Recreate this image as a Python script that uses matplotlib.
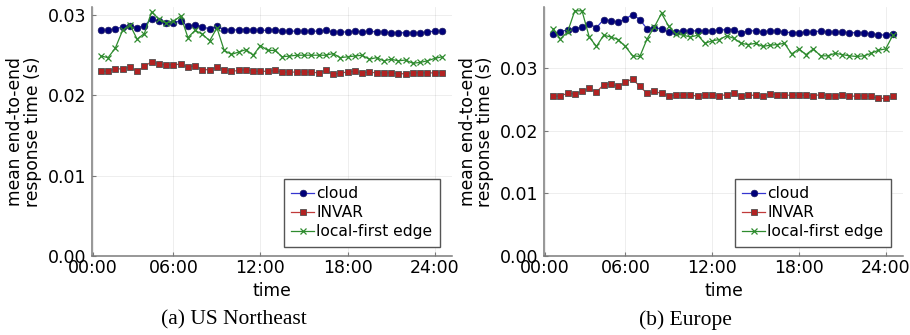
import numpy as np
import matplotlib.pyplot as plt

# half-hour samples, hours since midnight
hours = [1.0, 1.5, 2.0, 2.5, 3.0, 3.5, 4.0, 4.5, 5.0, 5.5, 6.0, 6.5,
         7.0, 7.5, 8.0, 8.5, 9.0, 9.5, 10.0, 10.5, 11.0, 11.5, 12.0, 12.5,
         13.0, 13.5, 14.0, 14.5, 15.0, 15.5, 16.0, 16.5, 17.0, 17.5, 18.0, 18.5,
         19.0, 19.5, 20.0, 20.5, 21.0, 21.5, 22.0, 22.5, 23.0, 23.5, 24.0, 24.5]

# (a) US Northeast
us_cloud = [0.0281, 0.0281, 0.0283, 0.0285, 0.0287, 0.0284, 0.0287, 0.0295, 0.0292, 0.0290, 0.0290, 0.0293,
            0.0286, 0.0288, 0.0285, 0.0283, 0.0286, 0.0282, 0.0281, 0.0282, 0.0282, 0.0281, 0.0281, 0.0281,
            0.0282, 0.0280, 0.0280, 0.0280, 0.0280, 0.0280, 0.0280, 0.0281, 0.0279, 0.0279, 0.0279, 0.0280,
            0.0279, 0.0280, 0.0279, 0.0279, 0.0278, 0.0278, 0.0278, 0.0278, 0.0278, 0.0279, 0.0280, 0.0280]
us_invar = [0.0230, 0.0230, 0.0233, 0.0233, 0.0235, 0.0230, 0.0236, 0.0242, 0.0239, 0.0238, 0.0238, 0.0239,
            0.0235, 0.0237, 0.0232, 0.0232, 0.0235, 0.0232, 0.0230, 0.0231, 0.0232, 0.0230, 0.0230, 0.0230,
            0.0231, 0.0229, 0.0229, 0.0229, 0.0229, 0.0229, 0.0228, 0.0231, 0.0226, 0.0228, 0.0229, 0.0230,
            0.0228, 0.0229, 0.0228, 0.0228, 0.0228, 0.0227, 0.0227, 0.0228, 0.0228, 0.0228, 0.0228, 0.0228]
us_edge = [0.0249, 0.0247, 0.0259, 0.0281, 0.0288, 0.0270, 0.0277, 0.0304, 0.0295, 0.0290, 0.0292, 0.0299,
           0.0272, 0.0281, 0.0276, 0.0268, 0.0284, 0.0256, 0.0251, 0.0254, 0.0257, 0.0250, 0.0262, 0.0256,
           0.0256, 0.0248, 0.0249, 0.0250, 0.0250, 0.0250, 0.0250, 0.0250, 0.0252, 0.0247, 0.0248, 0.0249,
           0.0250, 0.0245, 0.0247, 0.0243, 0.0245, 0.0243, 0.0244, 0.0240, 0.0241, 0.0243, 0.0246, 0.0248]

# (b) Europe
eu_cloud = [0.0355, 0.0358, 0.0362, 0.0363, 0.0366, 0.0371, 0.0365, 0.0378, 0.0376, 0.0374, 0.0379, 0.0386,
            0.0378, 0.0363, 0.0365, 0.0363, 0.0358, 0.0358, 0.0360, 0.0360, 0.0360, 0.0360, 0.0360, 0.0361,
            0.0362, 0.0362, 0.0357, 0.0360, 0.0360, 0.0358, 0.0360, 0.0360, 0.0358, 0.0357, 0.0357, 0.0358,
            0.0358, 0.0360, 0.0358, 0.0358, 0.0358, 0.0357, 0.0357, 0.0357, 0.0355, 0.0354, 0.0353, 0.0355]
eu_invar = [0.0255, 0.0256, 0.0260, 0.0259, 0.0263, 0.0268, 0.0262, 0.0274, 0.0275, 0.0271, 0.0278, 0.0283,
            0.0271, 0.0260, 0.0263, 0.0260, 0.0256, 0.0257, 0.0257, 0.0258, 0.0255, 0.0258, 0.0257, 0.0256,
            0.0258, 0.0260, 0.0255, 0.0257, 0.0257, 0.0255, 0.0259, 0.0258, 0.0257, 0.0257, 0.0257, 0.0257,
            0.0256, 0.0258, 0.0256, 0.0256, 0.0258, 0.0255, 0.0256, 0.0256, 0.0255, 0.0252, 0.0252, 0.0255]
eu_edge = [0.0363, 0.0347, 0.0358, 0.0392, 0.0392, 0.0350, 0.0335, 0.0353, 0.0350, 0.0346, 0.0335, 0.0320,
           0.0319, 0.0347, 0.0366, 0.0388, 0.0367, 0.0355, 0.0353, 0.0350, 0.0353, 0.0340, 0.0344, 0.0346,
           0.0352, 0.0348, 0.0340, 0.0338, 0.0340, 0.0335, 0.0337, 0.0338, 0.0340, 0.0323, 0.0331, 0.0322,
           0.0331, 0.0320, 0.0320, 0.0324, 0.0322, 0.0320, 0.0319, 0.0320, 0.0324, 0.0329, 0.0331, 0.0353]

tick_pos = [0.45, 6, 12, 18, 24]
tick_lab = ['00:00', '06:00', '12:00', '18:00', '24:00']
captions = ['(a) US Northeast', '(b) Europe']

plt.rcParams['font.family'] = 'DejaVu Sans'

fig = plt.figure(figsize=(9.1, 3.35), dpi=100)
ax1 = fig.add_axes([0.1011, 0.2358, 0.3956, 0.7432])
ax2 = fig.add_axes([0.5981, 0.2358, 0.3942, 0.7432])

panels = [(ax1, us_cloud, us_invar, us_edge, 0.031, [0, 0.01, 0.02, 0.03]),
          (ax2, eu_cloud, eu_invar, eu_edge, 0.0398, [0, 0.01, 0.02, 0.03])]

for i, (ax, cl, inv, edge, ytop, yt) in enumerate(panels):
    ax.plot(hours, cl, color='#3535d0', lw=0.9, marker='o', ms=4.8,
            mfc='#00007a', mec='#1a1a60', mew=0.5, label='cloud')
    ax.plot(hours, inv, color='#c03a3a', lw=0.9, marker='s', ms=4.8,
            mfc='#b22222', mec='#505050', mew=0.6, label='INVAR')
    ax.plot(hours, edge, color='#2e8b2e', lw=0.9, marker='x', ms=4.8,
            mew=0.9, label='local-first edge')

    ax.set_xlim(0.39, 25.2)
    ax.set_ylim(0, ytop)
    ax.set_xticks(tick_pos)
    ax.set_xticklabels(tick_lab)
    ax.set_yticks(yt)
    ax.set_yticklabels(['%.2f' % v for v in yt])
    ax.grid(True, color='black', alpha=0.08, lw=0.6)
    ax.set_axisbelow(True)
    for s in ['top', 'right']:
        ax.spines[s].set_visible(False)
    for s in ['left', 'bottom']:
        ax.spines[s].set_color('#7a7a7a')
        ax.spines[s].set_linewidth(1.1)
    ax.tick_params(direction='in', length=3, color='#7a7a7a', labelsize=12.5)
    ax.tick_params(axis='x', pad=2)
    ax.tick_params(axis='y', pad=4)

    ax.set_xlabel('time', fontsize=12.3)
    ax.xaxis.set_label_coords(0.5, -0.105)
    ax.set_ylabel('mean end-to-end\nresponse time (s)', fontsize=12.3, linespacing=0.95)
    ax.yaxis.set_label_coords(-0.14, 0.5)

    leg = ax.legend(loc='lower right', bbox_to_anchor=(0.967, 0.036), borderaxespad=0,
                    fontsize=11.2, fancybox=False, labelspacing=0.25, handlelength=1.45,
                    handletextpad=0.15, borderpad=0.5, framealpha=1)
    leg.get_frame().set_edgecolor('#555555')
    leg.get_frame().set_linewidth(1.0)

fig.text(0.257, 0.045, captions[0], family='Liberation Serif', fontsize=15.5, ha='center', va='center')
fig.text(0.753, 0.045, captions[1], family='Liberation Serif', fontsize=15.5, ha='center', va='center')

fig.savefig('out.png', dpi=100)
